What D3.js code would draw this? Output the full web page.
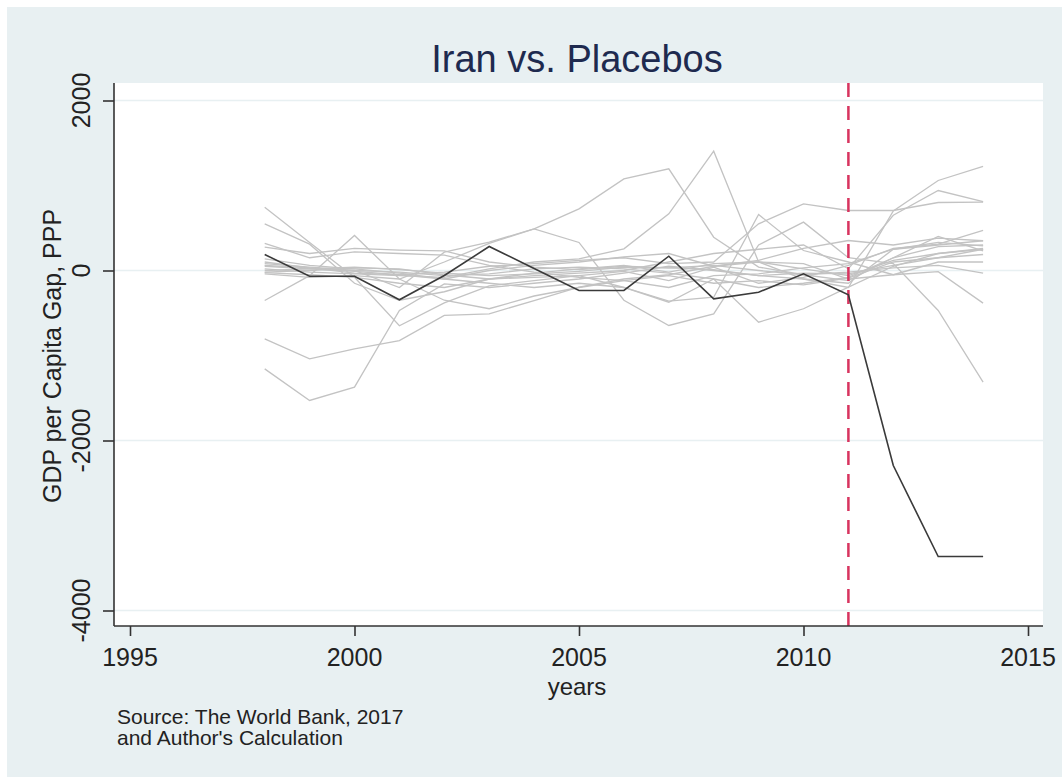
<!DOCTYPE html>
<html>
<head>
<meta charset="utf-8">
<script src="https://cdn.jsdelivr.net/npm/d3@7"></script>
<style>
  body { margin: 0; background: #fff; }
  text { font-family: "Liberation Sans", Arial, sans-serif; }
</style>
</head>
<body>
<script>
var years = [1998,1999,2000,2001,2002,2003,2004,2005,2006,2007,2008,2009,2010,2011,2012,2013,2014];

var iran = [188,-67,-67,-345,-59,282,24,-235,-235,168,-333,-255,-39,-286,-2294,-3365,-3365];

var placebo1  = [745,330,-80,-650,-380,-180,-120,-60,-10,-120,40,-150,-80,60,260,310,471];
var placebo2  = [549,310,-150,-350,-250,-100,-30,20,60,-20,80,100,20,-60,120,200,259];
var placebo3  = [320,150,220,200,180,60,-20,-80,-120,-200,-60,-40,30,80,250,330,290];
var placebo4  = [275,200,260,240,230,100,40,10,50,30,10,-60,-30,-40,60,150,250];
var placebo5  = [-353,-60,412,-100,-350,-450,-300,-200,-120,-60,-150,-120,-170,-90,100,150,188];
var placebo6  = [137,60,20,-30,-100,0,60,100,160,200,50,120,260,353,300,380,350];
var placebo7  = [80,40,0,-200,216,333,490,725,1078,1196,392,40,-50,-120,150,400,230];
var placebo8  = [20,-20,-40,-60,-80,20,100,137,255,667,1404,100,-100,-200,700,1059,1224];
var placebo9  = [-20,0,30,20,-50,-100,-80,-60,-200,-360,-314,659,235,100,-50,-14,-384];
var placebo10 = [-40,-80,-60,-100,100,320,490,330,-350,-647,-510,300,569,150,82,-470,-1314];
var placebo11 = [60,30,-30,-50,-20,50,80,120,150,80,100,549,784,706,706,800,804];
var placebo12 = [-24,-50,-80,-150,-200,-100,-60,-30,0,100,200,250,300,20,650,941,810];
var placebo13 = [100,30,0,-20,-60,-40,20,40,20,-30,-100,-200,-150,-80,150,280,300];
var placebo14 = [0,20,40,10,-30,-60,-40,-10,40,30,60,0,-50,-20,30,60,-31];
var placebo15 = [-1157,-1529,-1372,-470,-157,-200,-150,-100,-30,50,0,-60,-100,-150,250,300,350];
var placebo16 = [-804,-1039,-922,-824,-529,-510,-353,-196,-100,-50,50,100,80,-100,-50,100,100];
var placebo17 = [50,20,-10,-50,-100,-150,-200,-150,-200,-373,-100,-608,-450,-196,50,200,250];

var placebos = [placebo1,placebo2,placebo3,placebo4,placebo5,placebo6,placebo7,placebo8,placebo9,
                placebo10,placebo11,placebo12,placebo13,placebo14,placebo15,placebo16,placebo17];

var xTicks = [1995,2000,2005,2010,2015];
var yTicks = [-4000,-2000,0,2000];
var treatYear = 2011;

var width = 1062, height = 778;
var plotLeft = 114, plotRight = 1043, plotTop = 83, plotBottom = 626;

var x = d3.scaleLinear().domain([1995,2015]).range([130,1028]);
var y = d3.scaleLinear().domain([-4000,2000]).range([610.5,100.5]);

var svg = d3.select("body")
            .append("svg")
            .attr("width", width)
            .attr("height", height);

svg.append("rect")
   .attr("x", 7)
   .attr("y", 7)
   .attr("width", width-7)
   .attr("height", 770)
   .attr("fill", "#e8f0f2");

svg.append("rect")
   .attr("x", plotLeft)
   .attr("y", plotTop)
   .attr("width", plotRight-plotLeft)
   .attr("height", plotBottom-plotTop)
   .attr("fill", "#ffffff");

// gridlines
svg.selectAll(".grid")
   .data(yTicks)
   .enter()
   .append("line")
   .attr("x1", plotLeft)
   .attr("x2", plotRight)
   .attr("y1", function(d) { return y(d); })
   .attr("y2", function(d) { return y(d); })
   .attr("stroke", "#e8f0f2")
   .attr("stroke-width", 1.5);

var line = d3.line()
             .x(function(d, i) { return x(years[i]); })
             .y(function(d) { return y(d); });

svg.selectAll(".placebo")
   .data(placebos)
   .enter()
   .append("path")
   .attr("d", line)
   .attr("fill", "none")
   .attr("stroke", "#c3c3c3")
   .attr("stroke-width", 1.3);

svg.append("line")
   .attr("x1", x(treatYear))
   .attr("x2", x(treatYear))
   .attr("y1", plotTop)
   .attr("y2", plotBottom)
   .attr("stroke", "#d8345f")
   .attr("stroke-width", 2.5)
   .attr("stroke-dasharray", "14,9");

svg.append("path")
   .attr("d", line(iran))
   .attr("fill", "none")
   .attr("stroke", "#3a3a3a")
   .attr("stroke-width", 1.6);

// axes
var yAxis = d3.axisLeft(y).tickValues(yTicks).tickSize(11).tickFormat("");
svg.append("g")
   .attr("transform", "translate(" + plotLeft + ",0)")
   .call(yAxis)
   .call(function(g) {
     g.select(".domain").attr("d", "M0," + plotTop + "V" + plotBottom);
     g.selectAll("path, line").attr("stroke", "#333").attr("stroke-width", 1.6);
   });

var xAxis = d3.axisBottom(x).tickValues(xTicks).tickSize(10).tickFormat("");
svg.append("g")
   .attr("transform", "translate(0," + plotBottom + ")")
   .call(xAxis)
   .call(function(g) {
     g.select(".domain").attr("d", "M" + plotLeft + ",0H" + plotRight);
     g.selectAll("path, line").attr("stroke", "#333").attr("stroke-width", 1.6);
   });

svg.selectAll(".ylab")
   .data(yTicks)
   .enter()
   .append("text")
   .attr("transform", function(d) { return "translate(90," + y(d) + ") rotate(-90)"; })
   .attr("text-anchor", "middle")
   .attr("font-size", 25)
   .attr("fill", "#222")
   .text(function(d) { return d; });

svg.selectAll(".xlab")
   .data(xTicks)
   .enter()
   .append("text")
   .attr("x", function(d) { return x(d); })
   .attr("y", 666)
   .attr("text-anchor", "middle")
   .attr("font-size", 25)
   .attr("fill", "#222")
   .text(function(d) { return d; });

svg.append("text")
   .attr("x", 577)
   .attr("y", 72)
   .attr("text-anchor", "middle")
   .attr("font-size", 38)
   .attr("fill", "#1e2a4f")
   .text("Iran vs. Placebos");

svg.append("text")
   .attr("transform", "translate(61,356) rotate(-90)")
   .attr("text-anchor", "middle")
   .attr("font-size", 25)
   .attr("fill", "#222")
   .text("GDP per Capita Gap, PPP");

svg.append("text")
   .attr("x", 577)
   .attr("y", 695)
   .attr("text-anchor", "middle")
   .attr("font-size", 24)
   .attr("fill", "#222")
   .text("years");

svg.append("text")
   .attr("x", 117)
   .attr("y", 724)
   .attr("font-size", 21)
   .attr("fill", "#222")
   .text("Source: The World Bank, 2017");

svg.append("text")
   .attr("x", 117)
   .attr("y", 745)
   .attr("font-size", 21)
   .attr("fill", "#222")
   .text("and Author's Calculation");
</script>
</body>
</html>
